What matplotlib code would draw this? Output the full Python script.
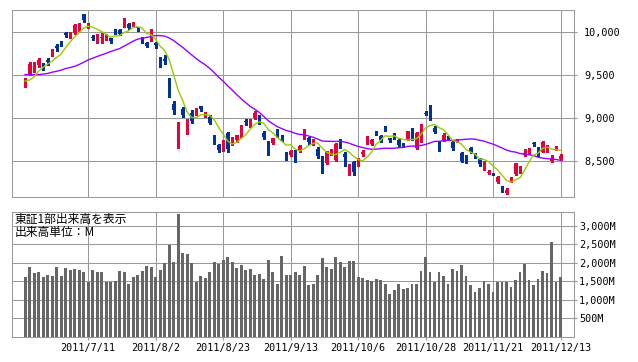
import numpy as np
import matplotlib
matplotlib.use('Agg')
import matplotlib.pyplot as plt

# trading days 2011/6/21 - 2011/12/13
dates = ['6/21', '6/22', '6/23', '6/24', '6/27', '6/28', '6/29', '6/30',
         '7/1', '7/4', '7/5', '7/6', '7/7', '7/8', '7/11', '7/12', '7/13', '7/14', '7/15',
         '7/19', '7/20', '7/21', '7/22', '7/25', '7/26', '7/27', '7/28', '7/29',
         '8/1', '8/2', '8/3', '8/4', '8/5', '8/8', '8/9', '8/10', '8/11', '8/12', '8/15',
         '8/16', '8/17', '8/18', '8/19', '8/22', '8/23', '8/24', '8/25', '8/26', '8/29',
         '8/30', '8/31', '9/1', '9/2', '9/5', '9/6', '9/7', '9/8', '9/9', '9/12', '9/13',
         '9/14', '9/15', '9/16', '9/20', '9/21', '9/22', '9/26', '9/27', '9/28', '9/29',
         '9/30', '10/3', '10/4', '10/5', '10/6', '10/7', '10/11', '10/12', '10/13', '10/14',
         '10/17', '10/18', '10/19', '10/20', '10/21', '10/24', '10/25', '10/26', '10/27',
         '10/28', '10/31', '11/1', '11/2', '11/4', '11/7', '11/8', '11/9', '11/10', '11/11',
         '11/14', '11/15', '11/16', '11/17', '11/18', '11/21', '11/22', '11/24', '11/25',
         '11/28', '11/29', '11/30', '12/1', '12/2', '12/5', '12/6', '12/7', '12/8', '12/9',
         '12/12', '12/13']

opens = [9413, 9512, 9550, 9616, 9624, 9672, 9752, 9842, 9885, 9985,
         9950, 9985, 10035, 10207, 10060, 9945, 9876, 9925, 9915, 9925,
         10020, 10023, 10070, 10089, 10075, 10055, 9927, 9876, 9900, 9876,
         9694, 9690, 9465, 9165, 8900, 9105, 8870, 9060, 9070, 9135,
         9040, 9015, 8783, 8686, 8650, 8822, 8700, 8740, 8783, 8965,
         8907, 9000, 9015, 8830, 8720, 8706, 8860, 8750, 8578, 8570,
         8620, 8620, 8764, 8764, 8698, 8640, 8550, 8473, 8595, 8510,
         8752, 8580, 8400, 8490, 8455, 8582, 8718, 8695, 8841, 8787,
         8890, 8764, 8820, 8744, 8690, 8744, 8868, 8650, 8744, 9060,
         9015, 8880, 8725, 8744, 8776, 8725, 8725, 8597, 8558, 8647,
         8581, 8520, 8395, 8365, 8355, 8250, 8202, 8125, 8260, 8349,
         8387, 8570, 8590, 8710, 8647, 8608, 8636, 8505, 8640, 8525]
highs = [9470, 9655, 9651, 9700, 9640, 9700, 9800, 9860, 9900, 10000,
         9995, 10090, 10110, 10215, 10100, 9960, 9975, 9985, 9980, 9935,
         10040, 10035, 10160, 10100, 10120, 10060, 9945, 9880, 10040, 9880,
         9713, 9735, 9470, 9200, 8950, 9130, 8985, 9090, 9115, 9145,
         9070, 9030, 8800, 8700, 8745, 8840, 8780, 8805, 8920, 8985,
         8985, 9085, 9030, 8850, 8730, 8770, 8875, 8802, 8600, 8625,
         8625, 8690, 8870, 8780, 8750, 8660, 8560, 8615, 8640, 8710,
         8760, 8600, 8470, 8500, 8530, 8630, 8790, 8760, 8850, 8800,
         8905, 8770, 8830, 8750, 8710, 8850, 8880, 8840, 8930, 9080,
         9152, 8905, 8730, 8820, 8790, 8740, 8760, 8600, 8570, 8660,
         8590, 8530, 8495, 8390, 8365, 8320, 8210, 8190, 8310, 8480,
         8440, 8640, 8650, 8715, 8660, 8730, 8690, 8570, 8670, 8580]
lows = [9364, 9505, 9535, 9597, 9560, 9620, 9725, 9780, 9840, 9940,
        9935, 9980, 10015, 10120, 10050, 9905, 9870, 9868, 9905, 9870,
        9980, 9970, 10062, 10030, 10065, 10010, 9870, 9820, 9895, 9810,
        9597, 9630, 9240, 9050, 8656, 9010, 8815, 8940, 9040, 9080,
        9015, 8935, 8700, 8600, 8620, 8610, 8680, 8720, 8775, 8915,
        8900, 8990, 8930, 8760, 8570, 8700, 8780, 8730, 8510, 8560,
        8490, 8600, 8760, 8700, 8680, 8540, 8359, 8465, 8570, 8500,
        8650, 8440, 8340, 8340, 8440, 8560, 8700, 8680, 8800, 8725,
        8850, 8717, 8750, 8659, 8665, 8740, 8740, 8640, 8725, 9040,
        8975, 8820, 8620, 8730, 8740, 8630, 8715, 8490, 8480, 8590,
        8530, 8440, 8390, 8350, 8340, 8240, 8140, 8120, 8250, 8340,
        8355, 8560, 8585, 8670, 8560, 8600, 8610, 8490, 8630, 8510]
closes = [9460, 9629, 9597, 9679, 9578, 9649, 9797, 9816, 9868, 9965,
          9972, 10082, 10071, 10138, 10070, 9926, 9963, 9936, 9974, 9890,
          10006, 9980, 10132, 10050, 10098, 10045, 9900, 9833, 9965, 9845,
          9637, 9659, 9300, 9098, 8944, 9039, 8982, 8964, 9086, 9107,
          9057, 8944, 8719, 8628, 8733, 8640, 8772, 8798, 8851, 8954,
          8955, 9061, 8951, 8784, 8591, 8763, 8793, 8738, 8536, 8617,
          8519, 8669, 8864, 8721, 8741, 8560, 8374, 8610, 8616, 8701,
          8700, 8545, 8456, 8370, 8522, 8606, 8774, 8739, 8823, 8748,
          8880, 8742, 8773, 8682, 8679, 8844, 8762, 8830, 8927, 9050,
          8988, 8835, 8640, 8801, 8767, 8655, 8755, 8501, 8500, 8604,
          8542, 8463, 8480, 8375, 8348, 8315, 8165, 8160, 8287, 8478,
          8435, 8597, 8644, 8696, 8575, 8722, 8665, 8536, 8654, 8553]
# closes before 6/21, only needed for the moving averages
earlier_close = [9662, 9620, 9607, 9460, 9477, 9422, 9562, 9521, 9504, 9693, 9719, 9555,
                 9492, 9380, 9442, 9449, 9467, 9514, 9391, 9547, 9574, 9411, 9351, 9354]

# TSE 1st section volume, million shares
volume = [1605, 1895, 1714, 1741, 1624, 1678, 1651, 1895, 1651, 1868,
          1814, 1841, 1814, 1760, 1489, 1814, 1741, 1760, 1470, 1489,
          1516, 1787, 1760, 1416, 1624, 1678, 1787, 1922, 1895, 1624,
          1814, 1984, 2490, 2030, 3302, 2255, 2228, 2003, 1489, 1651,
          1597, 1741, 2030, 1968, 2084, 2165, 2030, 1868, 1949, 1814,
          1841, 1678, 1705, 1570, 2084, 1741, 1435, 2193, 1678, 1678,
          1760, 1678, 1922, 1408, 1435, 1678,
          2120, 1876, 1841, 2147, 2011, 1895, 2057, 2057, 1624, 1597,
          1543, 1516, 1570, 1543, 1435, 1164, 1272, 1435, 1299, 1326,
          1435, 1435, 1787, 2147, 1760, 1480, 1760, 1651, 1435, 1841,
          1787, 1949, 1651, 1408, 1218, 1326, 1516, 1435, 1218, 1489,
          1489, 1489, 1353, 1543, 1760, 1976, 1543, 1408, 1570, 1787,
          1733, 2544, 1489, 1624]

price_ticks = [8500, 9000, 9500, 10000]
volume_ticks = [500, 1000, 1500, 2000, 2500, 3000]

RED = '#E8003A'
BLUE = '#003399'
GREEN = '#99CC00'
PURPLE = '#9900FF'
GRID = '#999999'
BAR = '#666666'
MONO = 'DejaVu Sans Mono'
JP = ['Noto Sans CJK JP', 'DejaVu Sans']

o = np.array(opens, float)
h = np.array(highs, float)
l = np.array(lows, float)
c = np.array(closes, float)
n = len(c)
x = np.arange(n)

all_close = np.concatenate([earlier_close, c])
ma5 = np.convolve(all_close, np.ones(5) / 5, mode='valid')[-n:]
ma25 = np.convolve(all_close, np.ones(25) / 25, mode='valid')[-n:]

W, H = 638, 362
fig = plt.figure(figsize=(W / 100, H / 100), dpi=100)


def px_axes(left, top, right, bottom):
    return fig.add_axes([left / W, 1 - bottom / H, (right - left) / W, (bottom - top) / H])


ax1 = px_axes(12, 10, 574, 197)
ax2 = px_axes(12, 212, 574, 337)

xticks = list(range(n - 1, -1, -15))[::-1]
xlabels = ['2011/' + dates[i] for i in xticks]

for ax in (ax1, ax2):
    ax.set_xlim(-2.9, 122)
    ax.set_xticks(xticks)
    ax.grid(True, color=GRID, lw=0.75)
    ax.set_axisbelow(True)
    ax.yaxis.tick_right()
    for s in ax.spines.values():
        s.set_color(GRID)
        s.set_linewidth(0.75)

# candles
up = c >= o
cols = np.where(up, RED, BLUE)
ax1.vlines(x, l, h, colors=cols, lw=0.9, antialiased=False)
ax1.bar(x, np.maximum(np.abs(c - o), 12), bottom=np.minimum(o, c), width=0.66,
        color=cols, lw=0, antialiased=False)
ax1.plot(x, ma25, color=PURPLE, lw=1.0)
ax1.plot(x, ma5, color=GREEN, lw=1.0)
ax1.set_ylim(8081, 10256)
ax1.set_yticks(price_ticks)
ax1.set_yticklabels([f'{v:,}' for v in price_ticks], fontfamily=MONO, fontsize=7.3)
ax1.set_xticklabels([])
ax1.tick_params(axis='x', length=0)
ax1.tick_params(axis='y', length=2.2, color=GRID, pad=5.2)

# volume
ax2.bar(x, volume, width=0.66, color=BAR, lw=0)
ax2.set_ylim(0, 3365)
ax2.set_yticks(volume_ticks)
ax2.set_yticklabels([f'{v:,}M' for v in volume_ticks], fontfamily=MONO, fontsize=7.3)
ax2.set_xticklabels(xlabels, fontfamily=MONO, fontsize=7.3)
ax2.tick_params(axis='x', length=2.2, color=GRID, pad=2.2)
ax2.tick_params(axis='y', length=2.2, color=GRID, pad=1.5)

fig.text(15 / W, 1 - 213 / H, '東証1部出来高を表示', family=JP, fontsize=8.5, va='top')
fig.text(15 / W, 1 - 226 / H, '出来高単位：M', family=JP, fontsize=8.5, va='top')

fig.savefig('out.png', dpi=100)
